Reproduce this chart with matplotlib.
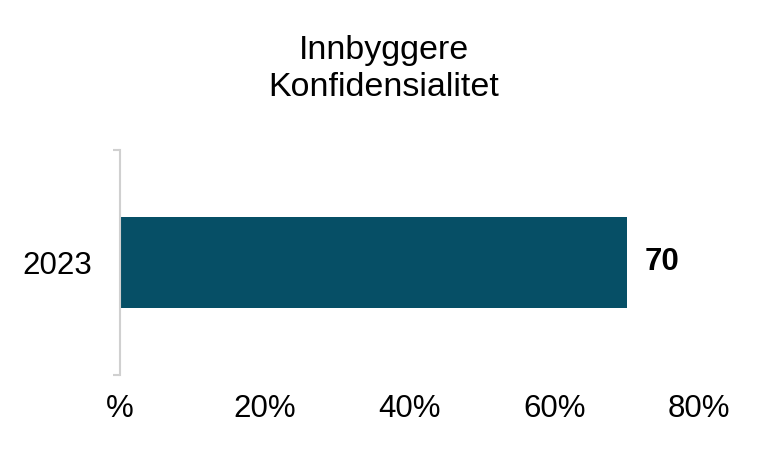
import matplotlib.pyplot as plt

plt.rcParams['font.family'] = ['Liberation Sans', 'DejaVu Sans']

years = ["2023"]
values = [70]
xticks = [0, 20, 40, 60, 80]
xticklabels = ["%", "20%", "40%", "60%", "80%"]

fig = plt.figure(figsize=(7.68, 4.51), dpi=100)
ax = fig.add_axes([120/768, 1-375/451, (699-120)/768, 225/451])

bars = ax.barh(range(len(years)), values, height=0.8, color='#064f66')
for i, v in enumerate(values):
    ax.annotate(f"{v}", xy=(v, i), xytext=(13, 0), textcoords='offset points',
                ha='left', va='center', fontsize=22.5, fontweight='bold')

ax.set_xlim(0, 80)
ax.set_ylim(-0.99, 0.99)
ax.set_yticks(range(len(years)))
ax.set_yticklabels(years, fontsize=22.5)
ax.set_xticks(xticks)
ax.set_xticklabels(xticklabels, fontsize=22.5)
ax.tick_params(axis='x', length=0, pad=14)
ax.tick_params(axis='y', length=0, pad=20)
# petits traits en haut et en bas de l'axe
ax.set_yticks([-0.99, 0.99], minor=True)
ax.tick_params(axis='y', which='minor', length=5, color='#d0d0d0', width=1.5)

for s in ["top", "right", "bottom"]:
    ax.spines[s].set_visible(False)
ax.spines["left"].set_color('#d0d0d0')
ax.spines["left"].set_linewidth(1.5)

fig.text(0.5, 1-50/451, "Innbyggere", ha='center', va='center', fontsize=24.5)
fig.text(0.5, 1-87/451, "Konfidensialitet", ha='center', va='center', fontsize=24.5)

fig.savefig("out.png", dpi=100)
